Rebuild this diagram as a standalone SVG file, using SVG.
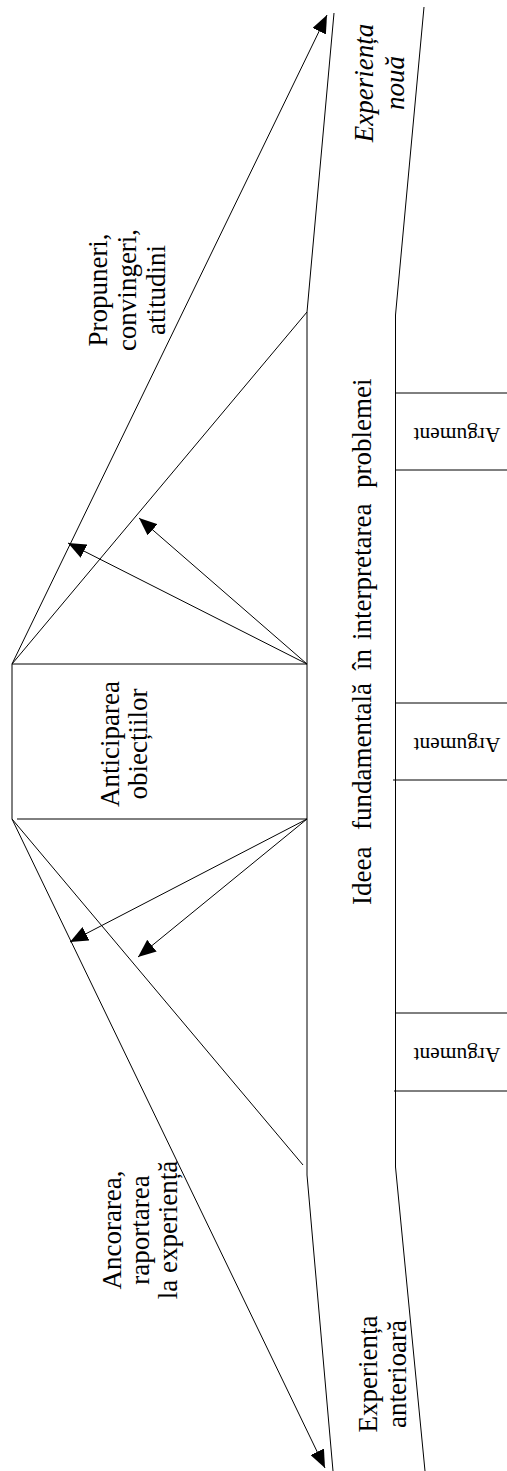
<svg xmlns="http://www.w3.org/2000/svg" width="507" height="1471" viewBox="0 0 507 1471">
<style>
  .ln { stroke: #000; stroke-width: 1; fill: none; }
  .t { font-family: "Liberation Serif", "Times New Roman", serif; font-size: 27px; fill: #000; }
  .ti { font-family: "Liberation Serif", "Times New Roman", serif; font-size: 27px; font-style: italic; fill: #000; }
  .arg { font-family: "Liberation Serif", "Times New Roman", serif; font-size: 21.5px; fill: #000; }
</style>
<defs>
  <marker id="ah" markerUnits="userSpaceOnUse" markerWidth="18" markerHeight="15" refX="18" refY="7.5" orient="auto">
    <path d="M0,0 L18,7.5 L0,15 z" fill="#000"/>
  </marker>
</defs>
<rect width="507" height="1471" fill="#fff"/>

<g id="band-new">
  <path class="ln" d="M334,13 L307,312"/>
  <path class="ln" d="M424,7 L395.5,315"/>
  <text class="ti" transform="translate(373,83) rotate(-90)" text-anchor="middle"><tspan x="0" y="0">Experiența</tspan><tspan x="0" dy="31">nouă</tspan></text>
</g>

<g id="band-prior">
  <path class="ln" d="M307,1175 L333,1471"/>
  <path class="ln" d="M395.5,1167 L425,1471"/>
  <text class="t" transform="translate(377,1374) rotate(-90)" text-anchor="middle"><tspan x="0" y="0">Experiența</tspan><tspan x="0" dy="29">anterioară</tspan></text>
</g>

<g id="idea-column">
  <path class="ln" d="M307,312 L307,1175"/>
  <path class="ln" d="M395.5,315 L395.5,1167"/>
  <text class="t" transform="translate(371,0) rotate(-90)"><tspan x="-905" y="0">Ideea</tspan><tspan x="-830" y="0">fundamentală</tspan><tspan x="-670" y="0">în</tspan><tspan x="-640" y="0">interpretarea</tspan><tspan x="-488" y="0">problemei</tspan></text>
</g>

<g id="argument-1">
  <path class="ln" d="M395.5,393 L507,393 M395.5,470 L507,470"/>
  <text class="arg" transform="translate(457,428) rotate(180)" text-anchor="middle">Argument</text>
</g>
<g id="argument-2">
  <path class="ln" d="M395.5,703 L507,703 M393,780 L507,780"/>
  <text class="arg" transform="translate(457,738) rotate(180)" text-anchor="middle">Argument</text>
</g>
<g id="argument-3">
  <path class="ln" d="M395.5,1013 L507,1013 M394,1091 L507,1091"/>
  <text class="arg" transform="translate(457,1048) rotate(180)" text-anchor="middle">Argument</text>
</g>

<g id="objections">
  <path class="ln" d="M12,664 L307,664 M12,664 L12,819 M17,819 L307,819"/>
  <text class="t" transform="translate(119,744) rotate(-90)" text-anchor="middle"><tspan x="0" y="0">Anticiparea</tspan><tspan x="0" dy="28">obiecțiilor</tspan></text>
</g>

<g id="label-proposals">
  <text class="t" transform="translate(107,290) rotate(-90)" text-anchor="middle"><tspan x="0" y="0">Propuneri,</tspan><tspan x="0" dy="29">convingeri,</tspan><tspan x="0" dy="29">atitudini</tspan></text>
</g>

<g id="label-anchoring">
  <text class="t" transform="translate(121,1230) rotate(-90)" text-anchor="middle"><tspan x="0" y="0">Ancorarea,</tspan><tspan x="0" dy="28">raportarea</tspan><tspan x="0" dy="28">la experiență</tspan></text>
</g>

<g id="connectors">
  <path class="ln" d="M12,664 L307,312"/>
  <path class="ln" d="M12,819 L303,1165"/>
  <path class="ln" d="M12,664 L327,15" marker-end="url(#ah)"/>
  <path class="ln" d="M12,819 L325,1468" marker-end="url(#ah)"/>
  <path class="ln" d="M307,664 L68,543" marker-end="url(#ah)"/>
  <path class="ln" d="M307,664 L139,518" marker-end="url(#ah)"/>
  <path class="ln" d="M307,819 L70,942" marker-end="url(#ah)"/>
  <path class="ln" d="M307,819 L138,957" marker-end="url(#ah)"/>
</g>
</svg>
